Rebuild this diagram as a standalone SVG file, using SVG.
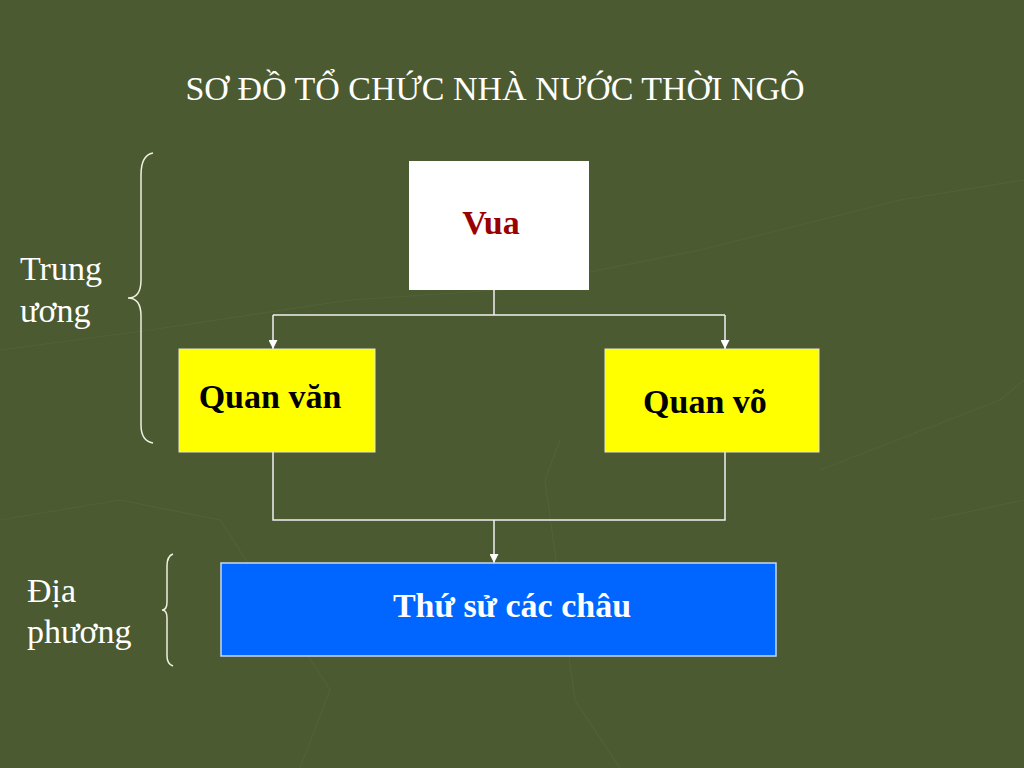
<svg xmlns="http://www.w3.org/2000/svg" width="1024" height="768" viewBox="0 0 1024 768">
<defs>
<style>
.t{font-family:"Liberation Serif","Times New Roman",serif;}
.lbl{font-family:"Liberation Serif","Times New Roman",serif;font-size:34px;fill:#ffffff;}
.nt{font-family:"Liberation Serif","Times New Roman",serif;font-size:34px;font-weight:bold;text-anchor:middle;}
.ln{stroke:#f0f0f0;stroke-width:1.5;fill:none;}
.br{stroke:#f0f0e0;stroke-width:1.5;fill:none;}
.contour{stroke:#56663b;stroke-width:1.2;fill:none;opacity:0.6;}
</style>
<marker id="ah" viewBox="0 0 10 10" refX="10" refY="5" markerWidth="9" markerHeight="9" markerUnits="userSpaceOnUse" orient="auto">
<path d="M0,0 L10,5 L0,10 z" fill="#ffffff"/>
</marker>
</defs>
<rect x="0" y="0" width="1024" height="768" fill="#4b5a31"/>
<g id="bg-contours">
<path class="contour" d="M0,350 L150,330 L350,300 L500,290 L700,250 L900,200 L1024,180"/>
<path class="contour" d="M0,520 L120,500 L220,520 L330,690 L300,768"/>
<path class="contour" d="M560,440 L545,480 L575,700 L620,768"/>
<path class="contour" d="M820,470 L1000,400 L1024,380"/>
<path class="contour" d="M930,520 L1024,500"/>
</g>
<text id="title" class="t" x="495" y="100" font-size="34" fill="#ffffff" text-anchor="middle">SƠ ĐỒ TỔ CHỨC NHÀ NƯỚC THỜI NGÔ</text>
<g id="label-trung-uong">
<text class="lbl" x="20" y="280">Trung</text>
<text class="lbl" x="20" y="322">ương</text>
<path class="br" d="M153,153 Q141,155 141,175 L141,280 Q141,298 128,298 Q141,298 141,316 L141,425 Q141,441 153,443"/>
</g>
<g id="label-dia-phuong">
<text class="lbl" x="27" y="602">Địa</text>
<text class="lbl" x="27" y="643">phương</text>
<path class="br" d="M173,554 Q167,556 167,566 L167,602 Q167,610 162,610 Q167,610 167,618 L167,656 Q167,664 173,666"/>
</g>
<g id="connectors">
<path class="ln" d="M494,290 L494,315"/>
<path class="ln" d="M273,315 L725,315"/>
<path class="ln" d="M273,315 L273,349" marker-end="url(#ah)"/>
<path class="ln" d="M725,315 L725,349" marker-end="url(#ah)"/>
<path class="ln" d="M273,452 L273,520 L725,520 L725,452"/>
<path class="ln" d="M494,520 L494,563" marker-end="url(#ah)"/>
</g>
<g id="node-vua">
<rect x="409" y="161" width="180" height="129" fill="#ffffff"/>
<text class="nt" x="491" y="234" fill="#990000">Vua</text>
</g>
<g id="node-quan-van">
<rect x="179" y="349" width="196" height="103" fill="#ffff00" stroke="#e8e8c0" stroke-width="1"/>
<text class="nt" x="270" y="408" fill="#000000">Quan văn</text>
</g>
<g id="node-quan-vo">
<rect x="605" y="349" width="214" height="103" fill="#ffff00" stroke="#e8e8c0" stroke-width="1"/>
<text class="nt" x="705" y="413" fill="#000000">Quan võ</text>
</g>
<g id="node-thu-su">
<rect x="221" y="563" width="555" height="93" fill="#0066ff" stroke="#c8d8f0" stroke-width="1.5"/>
<text class="nt" x="512" y="617" fill="#ffffff">Thứ sử các châu</text>
</g>
</svg>
